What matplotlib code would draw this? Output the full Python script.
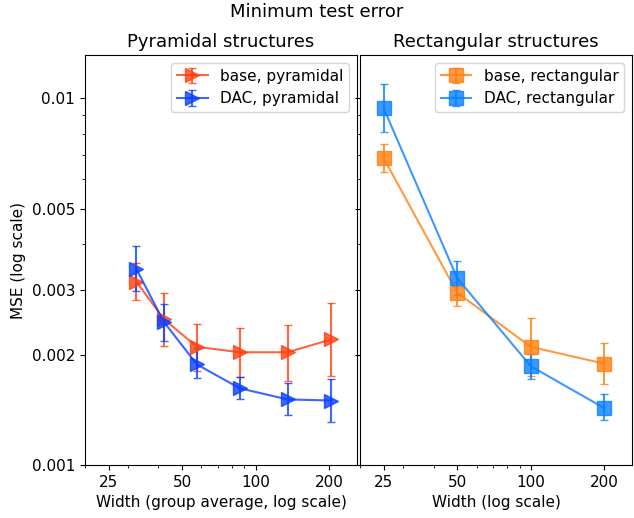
import numpy as np
import matplotlib
matplotlib.use('Agg')
import matplotlib.pyplot as plt
from matplotlib.ticker import ScalarFormatter, NullFormatter, FixedLocator

plt.rcParams['font.size'] = 11

# pyramidal: group-average widths
pyr_width = [32.5, 42, 57.5, 86, 135, 204]
pyr_base = [0.00316, 0.00250, 0.00210, 0.00203, 0.00203, 0.00220]
pyr_base_lo = [0.00282, 0.00211, 0.00180, 0.00174, 0.00170, 0.00175]
pyr_base_hi = [0.00356, 0.00295, 0.00243, 0.00237, 0.00241, 0.00277]
pyr_dac = [0.00342, 0.00246, 0.00188, 0.00162, 0.00151, 0.00150]
pyr_dac_lo = [0.00298, 0.00218, 0.00173, 0.00151, 0.00137, 0.00131]
pyr_dac_hi = [0.00395, 0.00275, 0.00208, 0.00174, 0.00167, 0.00172]

# rectangular widths
rect_width = [25, 50, 100, 200]
rect_base = [0.00685, 0.00295, 0.00210, 0.00189]
rect_base_lo = [0.00629, 0.00272, 0.00175, 0.00166]
rect_base_hi = [0.00748, 0.00316, 0.00251, 0.00215]
rect_dac = [0.00937, 0.00323, 0.00186, 0.00143]
rect_dac_lo = [0.00806, 0.00290, 0.00172, 0.00133]
rect_dac_hi = [0.01090, 0.00360, 0.00201, 0.00156]


def err(y, lo, hi):
    y, lo, hi = np.array(y), np.array(lo), np.array(hi)
    return [y - lo, hi - y]


fig, (ax1, ax2) = plt.subplots(1, 2, figsize=(6.34, 5.18), dpi=100, sharey=True)
fig.subplots_adjust(left=0.134, right=0.997, top=0.894, bottom=0.102, wspace=0.011)

kw = dict(ms=10, lw=1.5, capsize=3, alpha=0.8)
ax1.errorbar(pyr_width, pyr_base, yerr=err(pyr_base, pyr_base_lo, pyr_base_hi),
             marker='>', color='#ff4010', label='base, pyramidal', **kw)
ax1.errorbar(pyr_width, pyr_dac, yerr=err(pyr_dac, pyr_dac_lo, pyr_dac_hi),
             marker='>', color='#0a40ff', label='DAC, pyramidal', **kw)
ax2.errorbar(rect_width, rect_base, yerr=err(rect_base, rect_base_lo, rect_base_hi),
             marker='s', color='#ff8010', label='base, rectangular', **kw)
ax2.errorbar(rect_width, rect_dac, yerr=err(rect_dac, rect_dac_lo, rect_dac_hi),
             marker='s', color='#0a80ff', label='DAC, rectangular', **kw)

for ax in (ax1, ax2):
    ax.set_xscale('log')
    ax.set_yscale('log')
    ax.set_xlim(20, 260)
    ax.set_xticks([25, 50, 100, 200])
    ax.xaxis.set_major_formatter(ScalarFormatter())
    ax.xaxis.set_minor_formatter(NullFormatter())
    ax.legend(loc='upper right')

ax1.set_ylim(0.001, 0.0131)
ax1.yaxis.set_major_locator(FixedLocator([0.001, 0.002, 0.003, 0.005, 0.01]))
ax1.yaxis.set_minor_locator(FixedLocator([0.004, 0.006, 0.007, 0.008, 0.009]))
ax1.set_yticklabels(['0.001', '0.002', '0.003', '0.005', '0.01'])
ax1.yaxis.set_minor_formatter(NullFormatter())

ax1.set_title('Pyramidal structures', fontsize=13)
ax2.set_title('Rectangular structures', fontsize=13)
ax1.set_xlabel('Width (group average, log scale)')
ax2.set_xlabel('Width (log scale)')
ax1.set_ylabel('MSE (log scale)')
fig.suptitle('Minimum test error', fontsize=13, y=0.995)

fig.savefig('out.png')
